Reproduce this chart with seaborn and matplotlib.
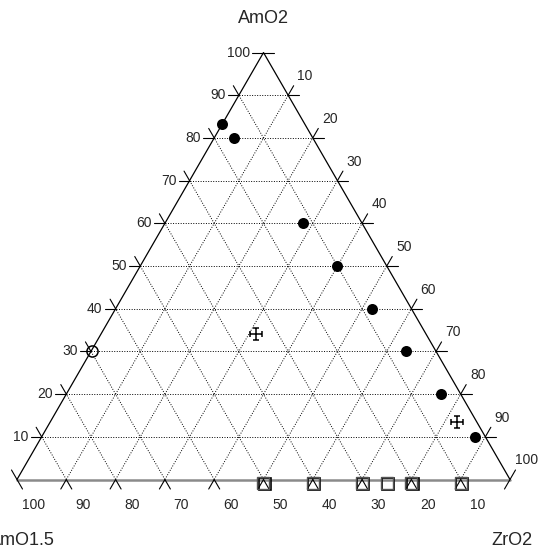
import numpy as np
import pandas as pd
import matplotlib
matplotlib.use("Agg")
import matplotlib.pyplot as plt
from matplotlib.path import Path
from matplotlib.transforms import offset_copy
import seaborn as sns

# ─── Datos (porcentajes molares; AmO1.5 = 100 - AmO2 - ZrO2) ─────────────────
FILLED_AMO2 = [83.3, 80, 60, 50, 40, 30, 20, 10]
FILLED_ZRO2 = [0, 4, 28, 40, 52, 64, 76, 88]
OPEN_AMO2 = [30]
OPEN_ZRO2 = [0.3]
CROSS_AMO2 = [34, 13.5]
CROSS_ZRO2 = [31.5, 82.5]
SQUARE_AMO2 = [0, 0, 0, 0, 0, 0]
SQUARE_ZRO2 = [50, 60, 70, 75, 80, 90]

GRID_VALUES = [10, 20, 30, 40, 50, 60, 70, 80, 90, 100]
TICK_LABELS = ["10", "20", "30", "40", "50", "60", "70", "80", "90", "100"]
VERTEX_LABELS = ["AmO2", "AmO1.5", "ZrO2"]   # arriba, izquierda, derecha

# ─── Estilo ──────────────────────────────────────────────────────────────────
sns.set_theme(style="white")
plt.rcParams["font.family"] = ["Liberation Sans", "DejaVu Sans"]

H = np.sqrt(3) / 2
PX = 493.0            # píxeles por unidad de lado del triángulo
L = 11 / PX           # longitud de las marcas exteriores


def tern(amo2, zro2):
    a = np.asarray(amo2, dtype=float) / 100
    z = np.asarray(zro2, dtype=float) / 100
    return z + a / 2, a * H


fig = plt.figure(figsize=(5.43, 5.51), dpi=100)
ax = fig.add_axes([0, 0, 1, 1])
ax.set_xlim(-17 / PX, (543 - 17) / PX)
ax.set_ylim(-(551 - 479.5) / PX, 479.5 / PX)
ax.set_axis_off()

# bordes del triángulo
ax.plot([0, 0.5, 1], [0, H, 0], color="black", lw=0.9, solid_capstyle="butt", zorder=3)
ax.plot([0, 1], [0, 0], color="#8a8a8a", lw=1.8, zorder=3)

dirs = {"A": np.array([1.0, 0.0]), "Z": np.array([0.5, H]), "B": np.array([-0.5, H])}

for v, lab in zip(GRID_VALUES, TICK_LABELS):
    f = v / 100
    # (familia, extremo 1, extremo 2)
    lines = {
        "A": (tern(v, 0), tern(v, 100 - v)),
        "Z": (tern(0, v), tern(100 - v, v)),
        "B": (tern(0, 100 - v), tern(100 - v, 0)),
    }
    for fam, (p1, p2) in lines.items():
        p1, p2, d = np.array(p1), np.array(p2), dirs[fam]
        if f < 1:
            ax.plot([p1[0], p2[0]], [p1[1], p2[1]], color="black", lw=0.7,
                    linestyle=(0, (1, 1.6)), zorder=1)
        for a0, a1 in ((p1 - L * d, p1), (p2, p2 + L * d)):
            ax.plot([a0[0], a1[0]], [a0[1], a1[1]], color="black", lw=0.8, zorder=3)

    pa = np.array(tern(v, 0))
    ax.text(pa[0] - 13 / PX, pa[1], lab, ha="right", va="center", fontsize=10)
    pz = np.array(tern(100 - v, v))
    ax.text(pz[0] + 17 / PX, pz[1] + 19 / PX, lab, ha="center", va="center", fontsize=10)
    pb = np.array(tern(0, 100 - v))
    ax.text(pb[0] + 16.5 / PX, pb[1] - 25.5 / PX, lab, ha="center", va="center", fontsize=10)

# etiquetas de los vértices
ax.text(0.5, H + 34.5 / PX, VERTEX_LABELS[0], ha="center", va="center", fontsize=13)
ax.text(0 + 5 / PX, -61 / PX, VERTEX_LABELS[1], ha="center", va="center", fontsize=13)
ax.text(1 + 2 / PX, -61 / PX, VERTEX_LABELS[2], ha="center", va="center", fontsize=13)

# ─── Puntos ──────────────────────────────────────────────────────────────────
fx, fy = tern(FILLED_AMO2, FILLED_ZRO2)
sns.scatterplot(x=fx, y=fy, ax=ax, marker="o", s=63, color="black",
                edgecolor="black", linewidth=0, zorder=5, legend=False)

ox, oy = tern(OPEN_AMO2, OPEN_ZRO2)
ax.plot(ox, oy, linestyle="none", marker="o", markersize=8, mfc="none",
        mec="black", mew=1.1, zorder=5)

cap = 0.55
cross_path = Path(
    [(0, -1), (0, 1), (-1, 0), (1, 0),
     (-cap, 1), (cap, 1), (-cap, -1), (cap, -1),
     (1, -cap), (1, cap), (-1, -cap), (-1, cap)],
    [Path.MOVETO, Path.LINETO] * 6,
)
cx, cy = tern(CROSS_AMO2, CROSS_ZRO2)
ax.plot(cx, cy, linestyle="none", marker=cross_path, markersize=8, mfc="none",
        mec="black", mew=1.1, zorder=5)

sx, sy = tern(SQUARE_AMO2, SQUARE_ZRO2)
shadow = offset_copy(ax.transData, fig=fig, x=1.3, y=-4.3, units="dots")
main = offset_copy(ax.transData, fig=fig, x=0, y=-3.0, units="dots")
ax.plot(sx, sy, linestyle="none", marker="s", markersize=8.2, mfc="none",
        mec="black", mew=1.2, transform=shadow, zorder=5)
ax.plot(sx, sy, linestyle="none", marker="s", markersize=8.2, mfc="none",
        mec="#555555", mew=1.0, transform=main, zorder=6)

fig.savefig("out.png", dpi=100)
